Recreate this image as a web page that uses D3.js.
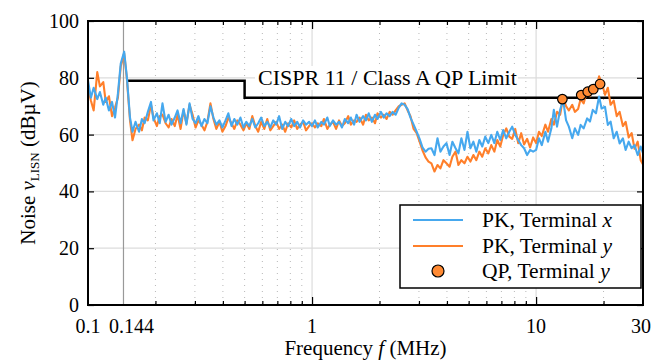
<!DOCTYPE html>
<html><head><meta charset="utf-8">
<script src="https://cdn.jsdelivr.net/npm/d3@7"></script>
<style>
body{margin:0;background:#fff;}
text{font-family:"Liberation Serif","Times New Roman",serif;fill:#000;}
</style></head><body>
<svg id="c" width="651" height="360"></svg>
<script>
const freqs = [0.100,0.103,0.106,0.110,0.113,0.117,0.120,0.124,0.128,0.132,0.136,0.140,0.145,0.149,0.154,0.158,0.163,0.169,0.174,0.179,0.185,0.191,0.196,0.203,0.209,0.215,0.222,0.229,0.236,0.244,0.251,0.259,0.267,0.275,0.284,0.293,0.302,0.311,0.321,0.331,0.341,0.352,0.363,0.374,0.386,0.398,0.411,0.423,0.437,0.450,0.464,0.479,0.494,0.509,0.525,0.541,0.558,0.575,0.593,0.612,0.631,0.651,0.671,0.692,0.713,0.736,0.759,0.782,0.807,0.832,0.858,0.884,0.912,0.940,0.970,
1.00,1.03,1.06,1.10,1.13,1.17,1.20,1.24,1.28,1.32,1.36,1.40,1.45,1.49,1.54,1.58,1.63,1.69,1.74,1.79,1.85,1.91,1.96,2.03,2.09,2.15,2.22,2.29,2.36,2.44,2.51,2.59,2.67,2.75,2.84,2.93,3.02,3.11,3.21,3.31,3.41,3.52,3.63,3.74,3.86,3.98,4.11,4.23,4.37,4.50,4.64,4.79,4.94,5.09,5.25,5.41,5.58,5.75,5.93,6.12,6.31,6.51,6.71,6.92,7.13,7.36,7.59,7.82,8.07,8.32,8.58,8.84,9.12,9.40,9.70,
10.0,10.3,10.6,11.0,11.3,11.7,12.0,12.4,12.8,13.2,13.6,14.0,14.5,14.9,15.4,15.8,16.3,16.9,17.4,17.9,18.5,19.1,19.6,20.3,20.9,21.5,22.2,22.9,23.6,24.4,25.1,25.9,26.7,27.5,28.4,29.3,30.0];

const pkX = [79.0,73.0,76.5,72.5,75.0,70.5,73.0,68.5,71.5,66.0,
74.5,85.0,89.2,80.5,66.0,61.0,64.5,61.0,65.5,64.0,
68.0,71.5,65.0,67.5,64.0,71.0,64.5,67.0,63.5,66.0,
68.5,64.0,69.0,63.5,71.0,65.5,64.0,66.5,63.0,65.5,
64.0,70.0,66.0,63.5,65.0,62.5,65.0,67.5,63.0,65.5,
63.5,66.0,62.5,64.5,63.0,65.5,62.5,64.0,66.0,63.0,
64.5,62.5,65.0,63.5,66.5,62.0,64.5,63.0,65.5,63.0,
64.5,62.5,65.0,63.5,64.5,63.0,65.0,62.5,64.5,63.5,
66.0,63.0,65.0,63.5,64.5,62.5,65.5,64.0,66.0,63.5,
67.0,64.5,66.5,65.0,67.5,64.5,67.0,65.5,68.0,66.0,
67.5,66.5,68.0,67.0,69.5,71.0,70.5,69.0,66.0,63.5,
61.0,58.5,55.5,54.0,55.0,55.2,52.8,58.7,54.0,55.8,
57.0,52.8,57.5,55.2,53.4,58.7,54.6,61.0,55.2,57.5,
54.0,58.1,55.8,59.3,57.0,59.9,57.0,61.0,58.1,61.6,
58.7,61.0,62.8,59.9,58.1,56.3,55.2,52.8,54.6,54.0,
54.6,58.7,56.3,61.0,57.5,62.2,68.7,62.8,68.7,72.2,
65.1,62.8,58.7,62.2,59.9,63.4,62.2,65.7,64.6,68.7,
67.5,73.4,69.2,69.8,63.4,64.6,58.7,61.0,56.9,58.7,
54.6,57.5,55.2,56.3,52.8,55.8,53.5];

const pkY = [76.5,72.0,68.5,82.0,77.0,78.5,71.5,73.5,66.5,69.5,
73.0,84.0,88.6,80.0,65.0,58.0,62.0,63.5,61.5,66.0,
65.0,70.5,66.0,63.0,66.5,67.0,64.0,62.5,65.5,63.0,
67.0,62.0,68.5,64.0,70.5,67.0,62.5,65.0,63.5,61.5,
64.5,71.0,65.5,62.0,64.5,61.0,63.0,66.0,64.0,62.0,
65.0,63.5,61.5,64.0,62.0,66.5,63.0,61.0,64.5,62.0,
65.5,61.5,63.0,64.5,62.0,63.5,61.0,64.0,62.5,65.0,
62.0,63.5,64.5,61.5,63.0,64.0,62.5,64.0,63.0,65.5,
62.0,63.5,64.5,62.0,65.0,63.0,64.0,66.5,63.5,65.0,
64.5,66.0,63.5,67.0,65.0,66.0,64.0,67.5,66.0,67.0,
65.5,68.0,67.0,68.5,70.0,70.5,71.0,68.5,66.5,62.0,
60.5,57.5,54.5,52.0,50.5,49.9,47.0,49.3,48.1,51.0,
49.9,48.7,52.2,54.0,49.3,51.0,49.9,52.2,50.5,52.8,
51.0,54.0,52.2,55.2,53.4,56.3,54.0,58.1,55.8,59.9,
62.2,59.3,58.5,62.0,57.0,60.5,56.5,58.5,55.5,59.0,
57.0,61.0,59.5,63.5,61.0,65.5,63.5,68.0,67.0,73.0,
70.0,68.5,70.5,68.0,69.0,72.5,71.0,75.5,73.5,77.0,
76.0,80.5,78.5,74.0,76.5,70.5,72.0,66.5,68.0,63.0,
64.5,59.0,60.5,55.0,57.5,51.0,49.5];

const qpFreq = [13.1, 15.9, 17.0, 18.0, 19.3];
const qpY = [72.5, 73.9, 75.1, 76.0, 77.8];
const limitFreq = [0.15, 0.5, 0.5, 30];
const limitVal = [79, 79, 73, 73];
const yTicks = [0, 20, 40, 60, 80, 100];
const xTickVals = [0.1, 0.144, 1, 10, 30];
const xTickLabels = ["0.1", "0.144", "1", "10", "30"];
const xMinor = [0.2,0.3,0.4,0.5,0.6,0.7,0.8,0.9,2,3,4,5,6,7,8,9,20];
const xMajor = [1, 10];

const svg = d3.select("#c");
const L = 88, R = 643, T = 21, B = 305;
const x = d3.scaleLog().domain([0.1, 30]).range([L, R]);
const y = d3.scaleLinear().domain([0, 100]).range([B, T]);

// grid
const g = svg.append("g");
g.selectAll(".hg").data([20,40,60,80]).join("line")
  .attr("x1", L).attr("x2", R).attr("y1", d => y(d)).attr("y2", d => y(d))
  .attr("stroke", "#dcdcdc").attr("stroke-width", 1.2);
g.selectAll(".vm").data(xMinor).join("line")
  .attr("x1", d => x(d)).attr("x2", d => x(d)).attr("y1", T).attr("y2", B)
  .attr("stroke", "#b8b8b8").attr("stroke-width", 1).attr("stroke-dasharray", "1,5");
g.selectAll(".vM").data(xMajor).join("line")
  .attr("x1", d => x(d)).attr("x2", d => x(d)).attr("y1", T).attr("y2", B)
  .attr("stroke", "#dcdcdc").attr("stroke-width", 1.2);
g.append("line").attr("x1", x(0.144)).attr("x2", x(0.144)).attr("y1", T).attr("y2", B)
  .attr("stroke", "#999").attr("stroke-width", 1.2);

// limit line
const limPts = limitFreq.map((f, i) => [f, limitVal[i]]);
svg.append("path").datum(limPts)
  .attr("d", d3.line().x(d => x(d[0])).y(d => y(d[1])))
  .attr("fill", "none").attr("stroke", "#000").attr("stroke-width", 2.5);

// traces
svg.append("clipPath").attr("id", "clp").append("rect")
  .attr("x", L).attr("y", T).attr("width", R - L).attr("height", B - T);
const line = d3.line().x(d => x(d[0])).y(d => y(d[1]));
svg.append("path").datum(freqs.map((f, i) => [f, pkY[i]]))
  .attr("d", line).attr("fill", "none").attr("stroke", "#ff7f2a")
  .attr("stroke-width", 2.1).attr("stroke-linejoin", "round").attr("clip-path", "url(#clp)");
svg.append("path").datum(freqs.map((f, i) => [f, pkX[i]]))
  .attr("d", line).attr("fill", "none").attr("stroke", "#46a8ee")
  .attr("stroke-width", 2.1).attr("stroke-linejoin", "round").attr("clip-path", "url(#clp)");

// CISPR label
svg.append("rect").attr("x", 255).attr("y", 66).attr("width", 263).attr("height", 24).attr("fill", "#fff");
svg.append("text").attr("x", 258).attr("y", 85).attr("font-size", 22).text("CISPR 11 / Class A QP Limit");

// QP points
svg.selectAll(".qp").data(qpFreq).join("circle")
  .attr("cx", d => x(d)).attr("cy", (d, i) => y(qpY[i])).attr("r", 4.8)
  .attr("fill", "#ff8a33").attr("stroke", "#000").attr("stroke-width", 1.2);

// ticks
const tk = (gen, tr) => {
  const a = svg.append("g").attr("transform", tr).call(gen);
  a.select(".domain").remove();
  a.selectAll("line").attr("stroke", "#000").attr("stroke-width", 1.2);
  a.selectAll("text").remove();
};
tk(d3.axisBottom(x).tickValues(xMinor).tickSize(-4), `translate(0,${B})`);
tk(d3.axisBottom(x).tickValues(xMajor).tickSize(-8), `translate(0,${B})`);
tk(d3.axisTop(x).tickValues(xMinor).tickSize(-4), `translate(0,${T})`);
tk(d3.axisTop(x).tickValues(xMajor).tickSize(-8), `translate(0,${T})`);
tk(d3.axisLeft(y).tickValues(yTicks).tickSize(-6), `translate(${L},0)`);
tk(d3.axisRight(y).tickValues(yTicks).tickSize(-6), `translate(${R},0)`);

// frame
svg.append("rect").attr("x", L).attr("y", T).attr("width", R - L).attr("height", B - T)
  .attr("fill", "none").attr("stroke", "#000").attr("stroke-width", 2);

// tick labels
svg.selectAll(".yl").data(yTicks).join("text")
  .attr("x", 79).attr("y", d => y(d)).attr("dy", "0.35em")
  .attr("text-anchor", "end").attr("font-size", 20).text(d => d);
svg.selectAll(".xl").data(xTickVals).join("text")
  .attr("x", (d, i) => x(d) + (i === 1 ? 8 : (i === 4 ? -2 : 0))).attr("y", 333)
  .attr("text-anchor", "middle").attr("font-size", 20).text((d, i) => xTickLabels[i]);

// axis titles
const xt = svg.append("text").attr("x", (L + R) / 2).attr("y", 355)
  .attr("text-anchor", "middle").attr("font-size", 21);
xt.append("tspan").text("Frequency ");
xt.append("tspan").attr("font-style", "italic").text("f");
xt.append("tspan").text(" (MHz)");

const yt = svg.append("text").attr("transform", `translate(35,${(T + B) / 2}) rotate(-90)`)
  .attr("text-anchor", "middle").attr("font-size", 21);
yt.append("tspan").text("Noise ");
yt.append("tspan").attr("font-style", "italic").text("v");
yt.append("tspan").attr("font-size", 13).attr("dy", 4).text("LISN");
yt.append("tspan").attr("dy", -4).text(" (dBµV)");

// legend
const lg = svg.append("g");
lg.append("rect").attr("x", 400).attr("y", 205).attr("width", 241).attr("height", 83)
  .attr("fill", "#fff").attr("stroke", "#000").attr("stroke-width", 1.5);
const rows = [
  {c: "#46a8ee", t: "PK, Terminal ", v: "x", y: 220, type: "line"},
  {c: "#ff7f2a", t: "PK, Terminal ", v: "y", y: 246, type: "line"},
  {c: "#ff8a33", t: "QP, Terminal ", v: "y", y: 271, type: "dot"}
];
rows.forEach(r => {
  if (r.type === "line") {
    lg.append("line").attr("x1", 413).attr("x2", 463).attr("y1", r.y).attr("y2", r.y)
      .attr("stroke", r.c).attr("stroke-width", 1.8);
  } else {
    lg.append("circle").attr("cx", 438).attr("cy", r.y).attr("r", 6)
      .attr("fill", r.c).attr("stroke", "#000").attr("stroke-width", 1.2);
  }
  const t = lg.append("text").attr("x", 482).attr("y", r.y + 7).attr("font-size", 21.5);
  t.append("tspan").text(r.t);
  t.append("tspan").attr("font-style", "italic").text(r.v);
});
</script>
</body></html>
